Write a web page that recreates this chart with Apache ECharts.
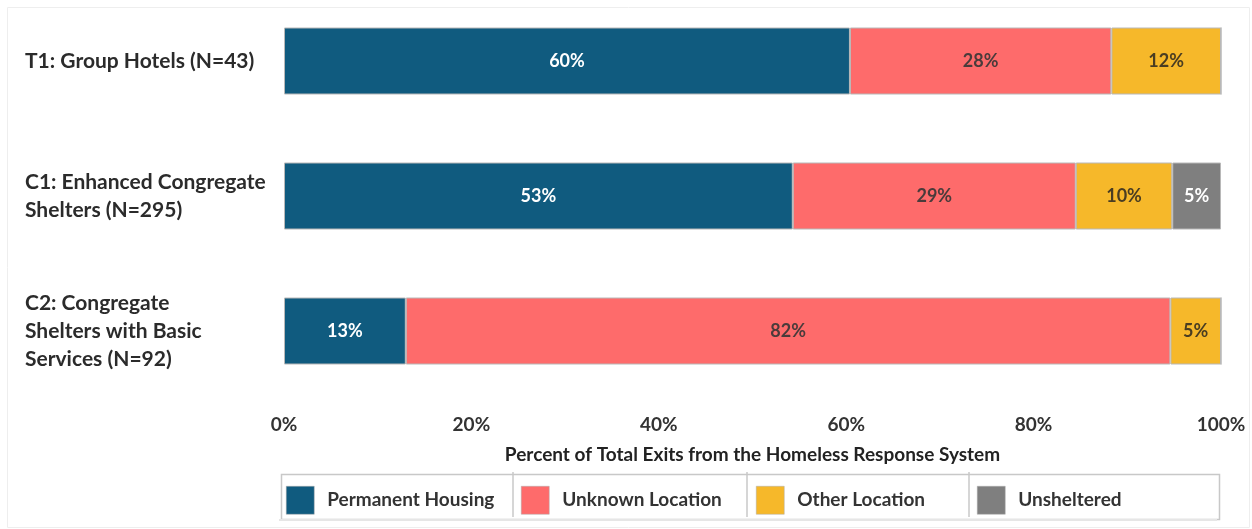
<!DOCTYPE html>
<html>
<head>
<meta charset="utf-8">
<script src="https://cdn.jsdelivr.net/npm/echarts@6/dist/echarts.min.js"></script>
<style>
  html, body { margin: 0; padding: 0; background: #fff; }
  #mainChart { width: 1252px; height: 529px; }
</style>
</head>
<body>
<div id="mainChart"></div>
<script>
// categories (top to bottom)
var categories = [
  'T1: Group Hotels (N=43)',
  'C1: Enhanced Congregate\nShelters (N=295)',
  'C2: Congregate\nShelters with Basic\nServices (N=92)'
];
var seriesNames = ['Permanent Housing', 'Unknown Location', 'Other Location', 'Unsheltered'];
// segment lengths as drawn (percent of total)
var permanentHousing = [60.4, 54.3, 13.0];
var unknownLocation = [27.9, 30.2, 81.6];
var otherLocation = [11.7, 10.3, 5.4];
var unsheltered = [0, 5.2, 0];
// printed labels
var permanentLabels = ['60%', '53%', '13%'];
var unknownLabels = ['28%', '29%', '82%'];
var otherLabels = ['12%', '10%', '5%'];
var unshelteredLabels = ['', '5%', ''];
var xTicks = [0, 20, 40, 60, 80, 100];

var colors = ['#105b7f', '#fe6b6b', '#f6b82a', '#7f7f7f'];
var labelColors = ['#ffffff', '#4a3b3b', '#4a3d22', '#ffffff'];
var font = 'Lato';

function makeSeries(idx, values, labels) {
  return {
    name: seriesNames[idx],
    type: 'bar',
    stack: 'total',
    barWidth: 67,
    data: values,
    itemStyle: { color: colors[idx], borderColor: '#b8b8b8', borderWidth: 1 },
    label: {
      show: true,
      position: 'inside',
      fontFamily: font,
      fontWeight: 'bold',
      fontSize: 18,
      color: labelColors[idx],
      formatter: function (p) { return labels[p.dataIndex]; }
    }
  };
}

var legendX = [286, 521, 756, 977];
var legends = seriesNames.map(function (n, i) {
  return {
    data: [n],
    left: legendX[i],
    top: 486,
    padding: 0,
    icon: 'rect',
    itemWidth: 28,
    itemHeight: 28,
    selectedMode: false,
    itemStyle: { borderColor: '#aaaaaa', borderWidth: 0.5 },
    textStyle: {
      fontFamily: font, fontWeight: 'bold', fontSize: 19, color: '#333',
      padding: [0, 0, 0, 8]
    }
  };
});

var chart = echarts.init(document.getElementById('mainChart'));
chart.setOption({
  animation: false,
  color: colors,
  grid: { left: 284, right: 31, top: 61, height: 270, containLabel: false },
  xAxis: {
    type: 'value',
    min: 0, max: 100, interval: 20,
    axisLine: { show: false },
    axisTick: { show: false },
    splitLine: { show: false },
    axisLabel: {
      margin: 84,
      fontFamily: font, fontWeight: 'bold', fontSize: 19, color: '#333',
      formatter: function (v) { return xTicks.indexOf(v) >= 0 ? v + '%' : ''; }
    },
    name: 'Percent of Total Exits from the Homeless Response System',
    nameLocation: 'middle',
    nameGap: 114,
    nameTextStyle: { fontFamily: font, fontWeight: 'bold', fontSize: 19, color: '#222' }
  },
  yAxis: {
    type: 'category',
    inverse: true,
    boundaryGap: false,
    data: categories,
    axisLine: { show: false },
    axisTick: { show: false },
    splitLine: { show: false },
    axisLabel: {
      align: 'left',
      margin: 259,
      fontFamily: font, fontWeight: 'bold', fontSize: 21, color: '#2b2b2b',
      lineHeight: 28
    }
  },
  legend: legends,
  graphic: [
    { type: 'rect', left: 5, top: 5, shape: { width: 1242, height: 520 }, style: { fill: 'none', stroke: '#eeeeee', lineWidth: 1 }, silent: true },
    { type: 'rect', left: 279, top: 472, shape: { width: 938, height: 45 }, style: { fill: 'none', stroke: '#c8c8c8', lineWidth: 1.5 }, silent: true },
    { type: 'line', shape: { x1: 279, y1: 520, x2: 1217, y2: 520 }, style: { stroke: '#e6e6e6', lineWidth: 2 }, silent: true },
    { type: 'line', shape: { x1: 513, y1: 472, x2: 513, y2: 517 }, style: { stroke: '#c8c8c8', lineWidth: 1.5 }, silent: true },
    { type: 'line', shape: { x1: 747, y1: 472, x2: 747, y2: 517 }, style: { stroke: '#c8c8c8', lineWidth: 1.5 }, silent: true },
    { type: 'line', shape: { x1: 969, y1: 472, x2: 969, y2: 517 }, style: { stroke: '#c8c8c8', lineWidth: 1.5 }, silent: true }
  ],
  series: [
    makeSeries(0, permanentHousing, permanentLabels),
    makeSeries(1, unknownLocation, unknownLabels),
    makeSeries(2, otherLocation, otherLabels),
    makeSeries(3, unsheltered, unshelteredLabels)
  ]
});
</script>
</body>
</html>
